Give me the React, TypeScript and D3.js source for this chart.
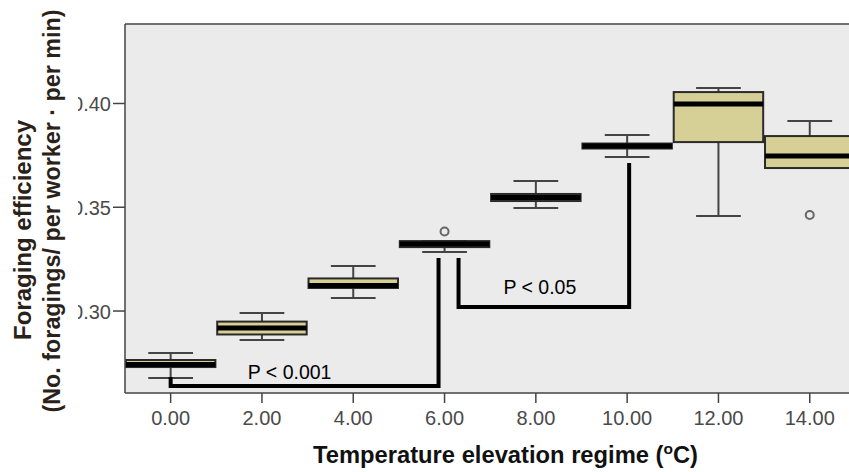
import React from "react";
import * as d3 from "d3";

const categories = ["0.00", "2.00", "4.00", "6.00", "8.00", "10.00", "12.00", "14.00"];
const whiskerLow = [0.2677, 0.286, 0.3063, 0.3284, 0.3496, 0.3742, 0.3458, 0.3689];
const q1 = [0.273, 0.2887, 0.3111, 0.3308, 0.353, 0.3783, 0.3814, 0.3689];
const median = [0.2742, 0.2918, 0.3123, 0.3323, 0.3547, 0.3795, 0.3998, 0.3747];
const q3 = [0.2764, 0.2949, 0.3157, 0.3337, 0.3564, 0.3807, 0.4055, 0.3843];
const whiskerHigh = [0.2798, 0.299, 0.3217, 0.3337, 0.3627, 0.3848, 0.4075, 0.3916];
const outliers: number[][] = [[], [], [], [0.3383], [], [], [], [0.3463]];
const yTicks = [0.3, 0.35, 0.4];
const yTickLabels = ["0.30", "0.35", "0.40"];

const bracketFrom = ["0.00", "6.00"];
const bracketTo = ["6.00", "10.00"];
const bracketFromTop = [0.2682, 0.3255];
const bracketToTop = [0.3255, 0.3713];
const bracketLevel = [0.2639, 0.3019];
const bracketLabels = ["P < 0.001", "P < 0.05"];

const W = 849;
const H = 472;
const plotLeft = 125;
const plotTop = 24;
const plotBottom = 393;
const plotRight = 855.4;

// style nudges (px) for the bracket ends and labels
const bracketFromNudge = [0, 14];
const bracketToNudge = [-6, 2];
const labelDx = [-15, -4];
const labelDy = [-7, -13];

export default function App() {
  const x = d3
    .scaleBand<string>()
    .domain(categories)
    .range([plotLeft, plotRight])
    .paddingInner(0.02)
    .paddingOuter(0.01);
  const y = d3.scaleLinear().domain([0.2605, 0.4383]).range([plotBottom, plotTop]);
  const bw = x.bandwidth();
  const cx = (c: string) => (x(c) as number) + bw / 2;
  const capHalf = bw / 4;
  const font = "'Liberation Sans', Arial, sans-serif";

  return (
    <svg
      width={W}
      height={H}
      style={{ position: "absolute", left: 0, top: 0, background: "#fff" }}
      fontFamily={font}
    >
      <defs>
        <clipPath id="plotClip">
          <rect x={plotLeft} y={plotTop - 2} width={W - plotLeft} height={plotBottom - plotTop + 4} />
        </clipPath>
        <clipPath id="ylabClip">
          <rect x={78} y={0} width={60} height={H} />
        </clipPath>
      </defs>

      {/* plot background */}
      <rect x={plotLeft} y={plotTop} width={plotRight - plotLeft} height={plotBottom - plotTop} fill="#ebebeb" />

      <g clipPath="url(#plotClip)">
        {categories.map((c, i) => {
          const xc = cx(c);
          const x0 = x(c) as number;
          return (
            <g key={c}>
              {/* whiskers */}
              <line x1={xc} x2={xc} y1={y(whiskerHigh[i])} y2={y(q3[i])} stroke="#444" strokeWidth={2} />
              <line x1={xc} x2={xc} y1={y(q1[i])} y2={y(whiskerLow[i])} stroke="#444" strokeWidth={2} />
              <line x1={xc - capHalf} x2={xc + capHalf} y1={y(whiskerHigh[i])} y2={y(whiskerHigh[i])} stroke="#444" strokeWidth={2} />
              <line x1={xc - capHalf} x2={xc + capHalf} y1={y(whiskerLow[i])} y2={y(whiskerLow[i])} stroke="#444" strokeWidth={2} />
              {/* box */}
              <rect
                x={x0}
                y={y(q3[i])}
                width={bw}
                height={y(q1[i]) - y(q3[i])}
                fill="#d6cf96"
                stroke="#2a2a2a"
                strokeWidth={2}
              />
              <line x1={x0} x2={x0 + bw} y1={y(median[i])} y2={y(median[i])} stroke="#000" strokeWidth={5} />
              {outliers[i].map((o, j) => (
                <circle key={j} cx={xc} cy={y(o)} r={4} fill="#ebebeb" stroke="#666" strokeWidth={2} />
              ))}
            </g>
          );
        })}

        {/* significance brackets */}
        {bracketLabels.map((lab, i) => {
          const xa = cx(bracketFrom[i]) + bracketFromNudge[i];
          const xb = cx(bracketTo[i]) + bracketToNudge[i];
          const yl = y(bracketLevel[i]);
          const path = `M${xa},${y(bracketFromTop[i])}V${yl}H${xb}V${y(bracketToTop[i])}`;
          return (
            <g key={lab}>
              <path d={path} fill="none" stroke="#000" strokeWidth={4} strokeLinejoin="miter" />
              <text
                x={(xa + xb) / 2 + labelDx[i]}
                y={yl + labelDy[i]}
                textAnchor="middle"
                fontSize={19.5}
                fill="#000"
              >
                {lab}
              </text>
            </g>
          );
        })}
      </g>

      {/* frame */}
      <line x1={plotLeft} x2={W} y1={plotTop} y2={plotTop} stroke="#444" strokeWidth={1.5} />
      <line x1={plotLeft} x2={plotLeft} y1={plotTop} y2={plotBottom} stroke="#444" strokeWidth={1.5} />
      <line x1={plotLeft} x2={W} y1={plotBottom} y2={plotBottom} stroke="#444" strokeWidth={1.5} />

      {/* x axis */}
      {categories.map((c) => (
        <g key={c}>
          <line x1={cx(c)} x2={cx(c)} y1={plotBottom} y2={plotBottom + 10} stroke="#444" strokeWidth={1.5} />
          <text x={cx(c)} y={425} textAnchor="middle" fontSize={20} fill="#4a4a4a">
            {c}
          </text>
        </g>
      ))}

      {/* y axis */}
      {yTicks.map((t, i) => (
        <g key={t}>
          <line x1={plotLeft - 12} x2={plotLeft} y1={y(t)} y2={y(t)} stroke="#444" strokeWidth={1.5} />
          <g clipPath="url(#ylabClip)">
            <text x={111} y={y(t) + 8} textAnchor="end" fontSize={20} fill="#4a4a4a">
              {yTickLabels[i]}
            </text>
          </g>
        </g>
      ))}

      {/* axis titles */}
      <text x={313} y={463} fontSize={23} fontWeight="bold" fill="#111" textLength={385} lengthAdjust="spacingAndGlyphs">
        Temperature elevation regime (
        <tspan fontSize={15} dy={-9}>o</tspan>
        <tspan dy={9}>C)</tspan>
      </text>
      <text
        transform="translate(31,230) rotate(-90)"
        textAnchor="middle"
        fontSize={23}
        fontWeight="bold"
        fill="#2a2218"
        textLength={220}
        lengthAdjust="spacingAndGlyphs"
      >
        Foraging efficiency
      </text>
      <text
        transform="translate(60,211) rotate(-90)"
        textAnchor="middle"
        fontSize={23}
        fontWeight="bold"
        fill="#2a2218"
        textLength={403}
        lengthAdjust="spacingAndGlyphs"
      >
        (No. foragings/ per worker · per min)
      </text>
    </svg>
  );
}
